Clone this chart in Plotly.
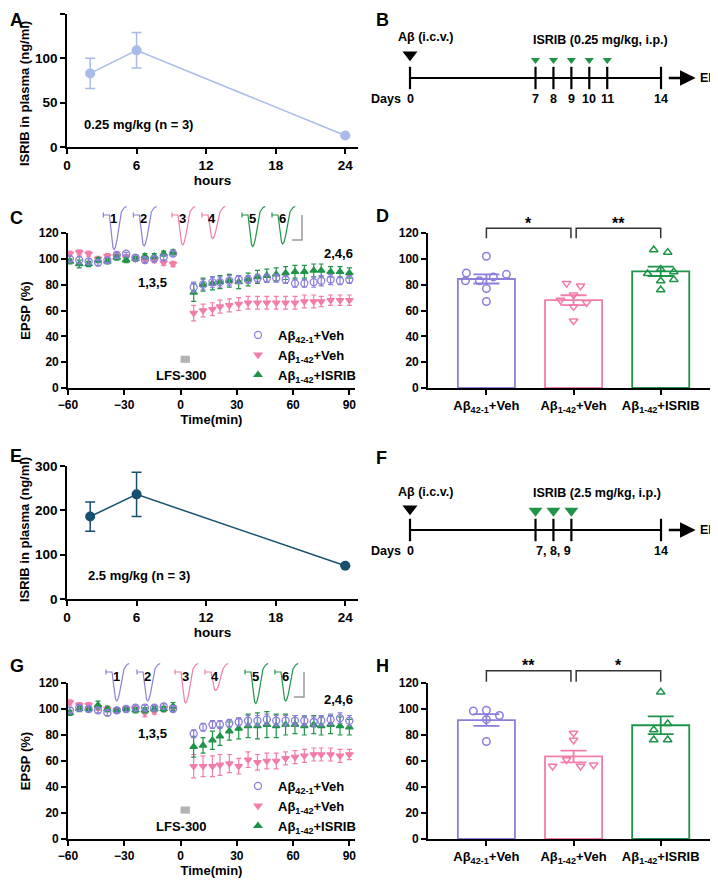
import plotly.graph_objects as go

# the page is drawn with the browser's 8 px body margin, so the figure is a bit
# smaller and every reference pixel position is shifted by OFF
OFF = 8
W, H = 718 - OFF, 882 - OFF
FONT = "Liberation Sans, Arial, sans-serif"

# ---------------- data ----------------
# A / E: ISRIB in plasma (ng/ml)
pk_hours = [2, 6, 24]
pk_low_mean = [83, 109, 13]
pk_low_sem = [17, 20, 0]
pk_high_mean = [186, 236, 75]
pk_high_sem = [33, 50, 0]

# B / F: dosing schedule (days)
low_days = [0, 7, 8, 9, 10, 11, 14]
low_dose_days = [7, 8, 9, 10, 11]
high_days = [0, 7, 8, 9, 14]
high_dose_days = [7, 8, 9]
abeta_day = [0]

# C / G: EPSP time course (%)
pre_t = [-59, -54, -49, -44, -39, -34, -29, -24, -19, -14, -9, -4]
post_t = [7, 12, 17, 21, 26, 31, 36, 41, 46, 51, 56, 61, 66, 71, 75, 80, 85, 90]
time_min = pre_t + post_t

c_ctrl = [100, 99, 98, 97, 99, 103, 104, 101, 99, 100, 101, 104,
          78, 80, 82, 82, 83, 84, 84, 85, 85, 85, 84, 81, 81, 82, 83, 84, 83, 84]
c_ctrl_err = [2, 3, 2, 2, 2, 2, 1, 2, 2, 2, 2, 2,
              4, 4, 4, 4, 4, 3, 3, 3, 3, 3, 3, 3, 3, 4, 4, 4, 3, 3]
c_veh = [104, 105, 104, 100, 102, 102, 101, 100, 99, 99, 97, 96,
         58, 60, 61, 63, 64, 65, 66, 66, 66, 66, 66, 66, 67, 67, 67, 68, 68, 68]
c_veh_err = [2, 2, 2, 2, 2, 2, 2, 2, 2, 2, 2, 2,
             6, 5, 5, 5, 5, 5, 5, 5, 5, 5, 5, 5, 5, 5, 4, 4, 4, 4]
c_isrib = [98, 96, 96, 99, 98, 101, 99, 100, 102, 102, 104, 105,
           74, 80, 81, 82, 83, 82, 84, 86, 87, 88, 89, 90, 90, 91, 91, 90, 90, 89]
c_isrib_err = [2, 3, 2, 2, 2, 2, 2, 2, 2, 2, 2, 2,
               7, 5, 5, 5, 5, 5, 5, 5, 5, 5, 5, 5, 5, 5, 5, 4, 4, 4]

g_ctrl = [99, 101, 100, 99, 97, 99, 100, 101, 101, 101, 102, 100,
          81, 86, 88, 88, 89, 90, 91, 91, 92, 91, 91, 91, 91, 90, 91, 92, 93, 91]
g_ctrl_err = [2, 2, 2, 2, 2, 2, 2, 2, 2, 2, 2, 2,
              3, 3, 3, 3, 3, 3, 4, 4, 4, 4, 4, 4, 4, 4, 4, 4, 4, 4]
g_veh = [105, 103, 103, 101, 100, 99, 100, 100, 97, 98, 100, 101,
         56, 56, 56, 57, 58, 56, 61, 59, 60, 60, 62, 63, 64, 65, 65, 65, 64, 65]
g_veh_err = [2, 2, 2, 2, 2, 2, 2, 2, 3, 2, 2, 2,
             9, 8, 8, 8, 7, 6, 6, 6, 6, 6, 5, 5, 5, 5, 5, 5, 5, 4]
g_isrib = [97, 100, 100, 103, 100, 99, 100, 99, 99, 100, 100, 102,
           71, 72, 76, 79, 83, 85, 87, 87, 88, 87, 88, 88, 87, 88, 87, 88, 87, 86]
g_isrib_err = [2, 2, 2, 3, 2, 2, 2, 2, 2, 2, 2, 3,
               8, 6, 7, 7, 7, 8, 9, 10, 10, 9, 8, 7, 7, 7, 7, 7, 7, 6]

# D / H: EPSP at end of recording (%), bar = mean, error = SEM
d_mean = [84.4, 68, 90.3]
d_sem = [3.5, 3.8, 3.6]
d_ctrl_pts = [102, 89, 83, 83, 86, 88, 77, 67]
d_ctrl_off = [0, -0.23, -0.24, -0.08, 0.08, 0.23, 0, 0]
d_veh_pts = [81, 79, 72, 68, 66, 63, 52]
d_veh_off = [-0.08, 0.08, 0, -0.15, 0.15, 0, 0]
d_isrib_pts = [107, 105, 92, 88.5, 90, 83, 84, 76]
d_isrib_off = [-0.08, 0.08, 0, -0.15, 0.15, 0, 0.15, 0]

h_mean = [91.5, 63.5, 87.5]
h_sem = [4.5, 4.5, 6.8]
h_ctrl_pts = [98.5, 99, 95, 92, 75]
h_ctrl_off = [-0.15, 0, 0.15, 0, 0]
h_veh_pts = [81.5, 76, 56, 61, 56, 57]
h_veh_off = [0, 0, -0.24, -0.08, 0.08, 0.23]
h_isrib_pts = [113, 84, 88.7, 76.3, 76.3]
h_isrib_off = [0, -0.08, 0.08, -0.08, 0.08]

d_stars = ["*", "**"]
h_stars = ["**", "*"]

# inset sample traces (ms, normalised)
trace_t = [0, 0, 0, 3.0, 3.6, 4.2, 4.8, 5.4, 6.0, 6.8, 7.6, 8.4, 9.0, 9.8, 10.6, 11.6]
trace_dip = [0, 0, 0, 0, -0.3, -0.7, -0.95, -1.0, -0.93, -0.72, -0.45, -0.18, 0, 0, 0, 0]
trace_tail = [0.05, -0.05, 0, 0, 0, 0, 0, 0, 0, 0, 0.01, 0.03, 0.06, 0.11, 0.15, 0.17]
trace_labels = ["1", "2", "3", "4", "5", "6"]
c_trace_start = [6.7, 21.7, 41, 56, 76, 91]
c_trace_amp = [0.69, 0.62, 0.60, 0.47, 0.63, 0.58]
g_trace_start = [8, 23.5, 42.5, 57.5, 77.5, 92.5]
g_trace_amp = [0.58, 0.58, 0.62, 0.37, 0.63, 0.58]

groups = ["Aβ<sub>42-1</sub>+Veh", "Aβ<sub>1-42</sub>+Veh", "Aβ<sub>1-42</sub>+ISRIB"]
colors = ["#8b7fd9", "#f27caa", "#1e9448"]
trace_colors = [colors[0], colors[0], colors[1], colors[1], colors[2], colors[2]]
line_symbols = ["circle-open", "triangle-down", "triangle-up"]
bar_symbols = ["circle-open", "triangle-down-open", "triangle-up-open"]
pk_low_color = "#a9bbe8"
pk_high_color = "#17506f"


def px_x(a, b):
    return [(a - OFF) / W, (b - OFF) / W]


def px_y(top, bottom):
    return [1 - (bottom - OFF) / H, 1 - (top - OFF) / H]


def f(size, color="black"):
    return dict(family=FONT, size=size, color=color, weight="bold")


def axis(**kw):
    d = dict(showline=True, linecolor="black", linewidth=1.6, ticks="outside",
             ticklen=5, tickwidth=1.6, tickcolor="black", showgrid=False,
             zeroline=False, tickfont=f(12), fixedrange=True, automargin=False)
    d.update(kw)
    return d


fig = go.Figure()
annotations = []
shapes = []

# ---------------- A / E ----------------
for xa, ya, mean, sem, col in [("x", "y", pk_low_mean, pk_low_sem, pk_low_color),
                               ("x7", "y7", pk_high_mean, pk_high_sem, pk_high_color)]:
    fig.add_trace(go.Scatter(
        x=pk_hours, y=mean, mode="lines+markers", xaxis=xa, yaxis=ya,
        line=dict(color=col, width=1.5), marker=dict(size=10, color=col),
        error_y=dict(type="data", array=sem, color=col, thickness=1.5, width=5),
        showlegend=False, cliponaxis=False))

annotations.append(dict(x=1.3, y=25, xref="x", yref="y", text="0.25 mg/kg (n = 3)",
                        showarrow=False, xanchor="left", font=f(13)))
annotations.append(dict(x=1.6, y=53, xref="x7", yref="y7", text="2.5 mg/kg (n = 3)",
                        showarrow=False, xanchor="left", font=f(13)))
# y titles of A and E sit a little below the axis centre in the reference
for yc in [94, 530]:
    annotations.append(dict(x=(24 - OFF) / W, y=1 - (yc - OFF) / H, xref="paper",
                            yref="paper", text="ISRIB in plasma (ng/ml)", textangle=-90,
                            xanchor="center", yanchor="middle", showarrow=False,
                            font=f(13)))


# ---------------- B / F ----------------
def timeline(days, dose_days, xa, ya, dose_size, ab_y, dose_y, day_text, dose_label, txt_y):
    fig.add_trace(go.Scatter(x=[days[0], days[-1]], y=[0, 0], mode="lines",
                             line=dict(color="black", width=2.2), xaxis=xa, yaxis=ya,
                             showlegend=False))
    tx, ty = [], []
    for d in days:
        tx += [d, d, None]
        ty += [-0.28, 0.28, None]
    fig.add_trace(go.Scatter(x=tx, y=ty, mode="lines", line=dict(color="black", width=2.2),
                             xaxis=xa, yaxis=ya, showlegend=False))
    fig.add_trace(go.Scatter(x=abeta_day, y=[ab_y], mode="markers", xaxis=xa, yaxis=ya,
                             marker=dict(symbol="triangle-down", size=13, color="black"),
                             showlegend=False, cliponaxis=False))
    fig.add_trace(go.Scatter(x=dose_days, y=[dose_y] * len(dose_days), mode="markers",
                             xaxis=xa, yaxis=ya,
                             marker=dict(symbol="triangle-down", size=dose_size, color="#1e9448"),
                             showlegend=False, cliponaxis=False))
    for xpos, t in day_text:
        annotations.append(dict(x=xpos, y=-0.53, xref=xa, yref=ya, text=t, showarrow=False,
                                font=f(12.5)))
    annotations.append(dict(x=-2.3, y=-0.53, xref=xa, yref=ya, text="Days", showarrow=False,
                            xanchor="left", font=f(12.5)))
    annotations.append(dict(x=-0.8, y=txt_y[0], xref=xa, yref=ya, text="Aβ (i.c.v.)",
                            showarrow=False, xanchor="left", font=f(12.5)))
    annotations.append(dict(x=6.75, y=txt_y[1], xref=xa, yref=ya, text=dose_label,
                            showarrow=False, xanchor="left", font=f(12.5)))
    annotations.append(dict(x=15.93, y=0, ax=14.35, ay=0, xref=xa, yref=ya, axref=xa,
                            ayref=ya, text="", showarrow=True, arrowhead=2, arrowsize=1.3,
                            arrowwidth=2.4, arrowcolor="black"))
    annotations.append(dict(x=16.05, y=0, xref=xa, yref=ya, text="EP", showarrow=False,
                            xanchor="left", font=f(12.5)))


timeline(low_days, low_dose_days, "x2", "y2", 8, 0.58, 0.45,
         [(d, str(d)) for d in low_days], "ISRIB (0.25 mg/kg, i.p.)", (1.03, 0.95))
timeline(high_days, high_dose_days, "x8", "y8", 12, 0.53, 0.48,
         [(high_days[0], str(high_days[0])),
          (high_dose_days[1], ", ".join(str(d) for d in high_dose_days)),
          (high_days[-1], str(high_days[-1]))],
         "ISRIB (2.5 mg/kg, i.p.)", (0.96, 0.92))


# ---------------- C / G ----------------
def timecourse(xa, ya, series, legend):
    for i in [1, 2, 0]:
        vals, errs = series[i]
        fig.add_trace(go.Scatter(
            x=time_min, y=vals, mode="markers", xaxis=xa, yaxis=ya, name=groups[i],
            marker=dict(symbol=line_symbols[i], size=6.5 if i else 7, color=colors[i],
                        line=dict(width=1.3, color=colors[i])),
            error_y=dict(type="data", array=errs, color=colors[i], thickness=1.2, width=2.5),
            legend=legend, legendrank=i, cliponaxis=False))
    shapes.append(dict(type="rect", xref=xa, yref=ya, x0=0, x1=5, y0=19.5, y1=25,
                       fillcolor="#b3b3b3", line=dict(width=0)))
    annotations.append(dict(x=0.5, y=10, xref=xa, yref=ya, text="LFS-300", showarrow=False,
                            font=f(13)))


timecourse("x3", "y3", [(c_ctrl, c_ctrl_err), (c_veh, c_veh_err), (c_isrib, c_isrib_err)],
           "legend")
timecourse("x9", "y9", [(g_ctrl, g_ctrl_err), (g_veh, g_veh_err), (g_isrib, g_isrib_err)],
           "legend2")
annotations += [
    dict(x=-15, y=82, xref="x3", yref="y3", text="1,3,5", showarrow=False, font=f(13)),
    dict(x=84, y=104.5, xref="x3", yref="y3", text="2,4,6", showarrow=False, font=f(13)),
    dict(x=-15, y=81.5, xref="x9", yref="y9", text="1,3,5", showarrow=False, font=f(13)),
    dict(x=84, y=107.5, xref="x9", yref="y9", text="2,4,6", showarrow=False, font=f(13)),
]


def insets(xa, ya, starts, amps, sb_x):
    for s, a, lab, col in zip(starts, amps, trace_labels, trace_colors):
        fig.add_trace(go.Scatter(
            x=[s + t for t in trace_t],
            y=[a * d + tl for d, tl in zip(trace_dip, trace_tail)],
            mode="lines", line=dict(color=col, width=1.2), xaxis=xa, yaxis=ya,
            showlegend=False))
        annotations.append(dict(x=s + 5.2, y=-0.08, xref=xa, yref=ya, text=lab,
                                showarrow=False, font=f(13)))
    fig.add_trace(go.Scatter(x=[sb_x - 5, sb_x, sb_x], y=[-0.5, -0.5, 0], mode="lines",
                             line=dict(color="#9a9a9a", width=1.5), xaxis=xa, yaxis=ya,
                             showlegend=False))


insets("x4", "y4", c_trace_start, c_trace_amp, 106)
insets("x10", "y10", g_trace_start, g_trace_amp, 107)


# ---------------- D / H ----------------
def bars(xa, ya, yb, mean, sem, pts, offs, stars, top, leg):
    for i in range(3):
        fig.add_trace(go.Bar(
            x=[i], y=[mean[i]], width=0.655, xaxis=xa, yaxis=ya,
            marker=dict(color="rgba(0,0,0,0)", line=dict(color=colors[i], width=1.8)),
            error_y=dict(type="data", array=[sem[i]], color=colors[i], thickness=1.8, width=13),
            showlegend=False))
    for i in range(3):
        fig.add_trace(go.Scatter(
            x=[i + o for o in offs[i]], y=pts[i], mode="markers", xaxis=xa, yaxis=ya,
            marker=dict(symbol=bar_symbols[i], size=7.5, color=colors[i],
                        line=dict(width=1.5, color=colors[i])),
            showlegend=False, cliponaxis=False))
    for (a, b), s in zip([(0, 0.97), (1.03, 2)], stars):
        fig.add_trace(go.Scatter(x=[a, a, b, b], y=[leg, top, top, leg], mode="lines",
                                 line=dict(color="#333333", width=1.5), xaxis=xa, yaxis=yb,
                                 showlegend=False))
        annotations.append(dict(x=(a + b) / 2, y=top + 4, xref=xa, yref=yb, text=s,
                                showarrow=False, yanchor="middle", font=f(16)))


bars("x5", "y5", "y6", d_mean, d_sem, [d_ctrl_pts, d_veh_pts, d_isrib_pts],
     [d_ctrl_off, d_veh_off, d_isrib_off], d_stars, 123.6, 116)
bars("x11", "y11", "y12", h_mean, h_sem, [h_ctrl_pts, h_veh_pts, h_isrib_pts],
     [h_ctrl_off, h_veh_off, h_isrib_off], h_stars, 129.5, 121)

# panel letters (reference pixel positions, kept inside the drawable area)
for lab, x, y in [("A", 1, 1), ("B", 374, 1), ("C", 1, 206), ("D", 374, 204),
                  ("E", 1, 444), ("F", 374, 446), ("G", 1, 654), ("H", 374, 654)]:
    annotations.append(dict(x=max(x - OFF, 0) / W, y=1 - max(y - OFF, 0) / H,
                            xref="paper", yref="paper", text=lab, showarrow=False,
                            xanchor="left", yanchor="top", font=f(18)))

# ---------------- axes ----------------
tl_range = [(360 - 410) / 17.93, (718 - 410) / 17.93]
hidden = dict(visible=False, fixedrange=True, automargin=False)
layout_axes = {
    # A
    "xaxis": axis(domain=px_x(67, 358), range=[0, 25.1], tickvals=[0, 6, 12, 18, 24],
                  anchor="y", tickfont=f(13.5),
                  title=dict(text="hours", font=f(13.5), standoff=4)),
    "yaxis": axis(domain=px_y(14, 147), range=[0, 150], tickvals=[0, 50, 100, 150],
                  anchor="x", tickfont=f(13.5)),
    # B
    "xaxis2": dict(hidden, domain=px_x(360, 718), range=tl_range, anchor="y2"),
    "yaxis2": dict(hidden, domain=px_y(32, 124), range=[-1.15, 1.15], anchor="x2"),
    # C
    "xaxis3": axis(domain=px_x(68, 355), range=[-60, 93], tickvals=[-60, -30, 0, 30, 60, 90],
                   anchor="y3", title=dict(text="Time(min)", font=f(13), standoff=3)),
    "yaxis3": axis(domain=px_y(233, 388), range=[0, 120], dtick=20, anchor="x3",
                   title=dict(text="EPSP (%)", font=f(13), standoff=5)),
    "xaxis4": dict(hidden, domain=px_x(90, 310), range=[0, 110], anchor="y4"),
    "yaxis4": dict(hidden, domain=px_y(200, 255), range=[-0.8, 0.3], anchor="x4"),
    # D
    "xaxis5": axis(domain=px_x(428, 713), range=[-0.67, 2.6], tickvals=[0, 1, 2],
                   ticktext=groups, anchor="y5", tickfont=f(13)),
    "yaxis5": axis(domain=px_y(233, 388), range=[0, 120], dtick=20, anchor="x5"),
    "yaxis6": dict(hidden, domain=px_y(210, 388), range=[0, 178 / (155 / 120)], anchor="x5"),
    # E
    "xaxis7": axis(domain=px_x(67, 358), range=[0, 25.1], tickvals=[0, 6, 12, 18, 24],
                   anchor="y7", tickfont=f(13.5),
                   title=dict(text="hours", font=f(13.5), standoff=4)),
    "yaxis7": axis(domain=px_y(466, 599), range=[0, 300], tickvals=[0, 100, 200, 300],
                   anchor="x7", tickfont=f(13.5)),
    # F
    "xaxis8": dict(hidden, domain=px_x(360, 718), range=tl_range, anchor="y8"),
    "yaxis8": dict(hidden, domain=px_y(484, 576), range=[-1.15, 1.15], anchor="x8"),
    # G
    "xaxis9": axis(domain=px_x(68, 355), range=[-60, 93], tickvals=[-60, -30, 0, 30, 60, 90],
                   anchor="y9", title=dict(text="Time(min)", font=f(13), standoff=3)),
    "yaxis9": axis(domain=px_y(683, 839), range=[0, 120], dtick=20, anchor="x9",
                   title=dict(text="EPSP (%)", font=f(13), standoff=5)),
    "xaxis10": dict(hidden, domain=px_x(90, 310), range=[0, 110], anchor="y10"),
    "yaxis10": dict(hidden, domain=px_y(657, 712), range=[-0.8, 0.3], anchor="x10"),
    # H
    "xaxis11": axis(domain=px_x(428, 713), range=[-0.67, 2.6], tickvals=[0, 1, 2],
                    ticktext=groups, anchor="y11", tickfont=f(13)),
    "yaxis11": axis(domain=px_y(683, 839), range=[0, 120], dtick=20, anchor="x11"),
    "yaxis12": dict(hidden, domain=px_y(650, 839), range=[0, 189 / (156 / 120)], anchor="x11"),
}

legend_common = dict(xanchor="left", yanchor="top", bgcolor="rgba(0,0,0,0)", font=f(13),
                     tracegroupgap=0, itemwidth=30, traceorder="normal")

fig.update_layout(
    template="none",
    width=W, height=H, margin=dict(l=0, r=0, t=0, b=0, pad=0, autoexpand=False),
    paper_bgcolor="white", plot_bgcolor="rgba(0,0,0,0)",
    font=f(13), barmode="overlay",
    legend=dict(legend_common, x=(238 - OFF) / W, y=1 - (320 - OFF) / H),
    legend2=dict(legend_common, x=(238 - OFF) / W, y=1 - (771 - OFF) / H),
    annotations=annotations, shapes=shapes,
    **layout_axes,
)

fig.write_html("out.html")
